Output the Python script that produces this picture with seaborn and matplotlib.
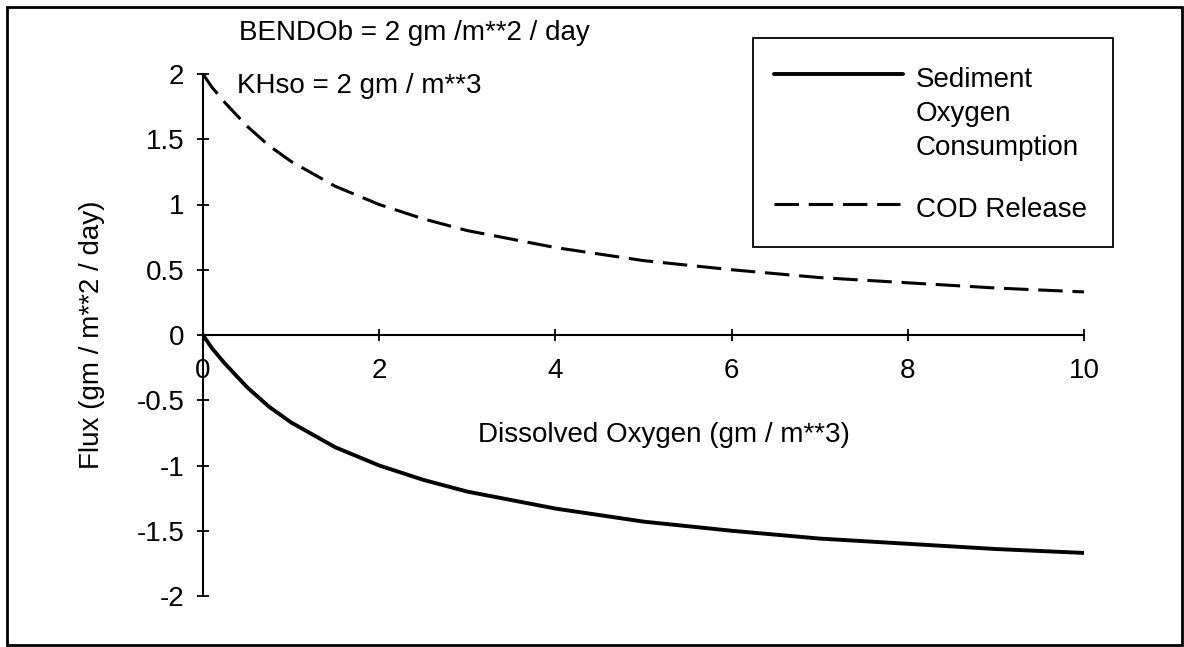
import matplotlib
matplotlib.use("Agg")
import matplotlib.pyplot as plt
from matplotlib.patches import Rectangle
from matplotlib.lines import Line2D
import seaborn as sns
import pandas as pd

# Dissolved oxygen (gm / m**3) and the two benthic fluxes (gm / m**2 / day)
dissolved_oxygen = [0, 0.1, 0.25, 0.5, 0.75, 1, 1.5, 2, 2.5, 3, 4, 5, 6, 7, 8, 9, 10]
sediment_oxygen = [0, -0.10, -0.22, -0.40, -0.55, -0.67, -0.86, -1.00, -1.11, -1.20,
                   -1.33, -1.43, -1.50, -1.56, -1.60, -1.64, -1.67]
cod_release = [2.00, 1.90, 1.78, 1.60, 1.45, 1.33, 1.14, 1.00, 0.89, 0.80,
               0.67, 0.57, 0.50, 0.44, 0.40, 0.36, 0.33]

series_names = ["Sediment Oxygen Consumption", "COD Release"]
x_ticks = [0, 2, 4, 6, 8, 10]
y_ticks = [-2, -1.5, -1, -0.5, 0, 0.5, 1, 1.5, 2]
y_tick_labels = ["-2", "-1.5", "-1", "-0.5", "0", "0.5", "1", "1.5", "2"]

sns.set_style("ticks")
plt.rcParams["font.family"] = ["Liberation Sans", "DejaVu Sans"]
plt.rcParams["text.color"] = "black"
FS = 20

W, H = 1184, 647


def fx(px):
    return px / W


def fy(py):
    return 1 - py / H


df = pd.DataFrame({
    "DO": dissolved_oxygen * 2,
    "Flux": sediment_oxygen + cod_release,
    "Series": [series_names[0]] * len(dissolved_oxygen) + [series_names[1]] * len(dissolved_oxygen),
})

fig = plt.figure(figsize=(W / 100, H / 100), dpi=100)
ax = fig.add_axes([fx(203), fy(596), 881 / W, 522 / H])

dash = (8, 3.2)
sns.lineplot(data=df, x="DO", y="Flux", style="Series", color="black",
             dashes={series_names[0]: "", series_names[1]: dash},
             ax=ax, legend=False)
line_widths = [2.8, 2.2]
for line, lw in zip(ax.get_lines(), line_widths):
    line.set_linewidth(lw)

ax.set_xlim(0, 10)
ax.set_ylim(-2, 2)
ax.set_xticks(x_ticks)
ax.set_xticklabels([str(t) for t in x_ticks])
ax.set_yticks(y_ticks)
ax.set_yticklabels(y_tick_labels)

for side in ["top", "right"]:
    ax.spines[side].set_visible(False)
ax.spines["bottom"].set_position(("data", 0))
for side in ["left", "bottom"]:
    ax.spines[side].set_color("black")
    ax.spines[side].set_linewidth(1.5)

ax.tick_params(axis="both", which="major", direction="inout", length=9, width=1.3,
               colors="black", labelsize=FS)
ax.tick_params(axis="x", pad=12)
ax.tick_params(axis="y", pad=9)

ax.set_xlabel("Dissolved Oxygen (gm / m**3)", fontsize=FS, color="black")
ax.xaxis.set_label_coords(0.523, 0.333)
ax.set_ylabel("Flux (gm / m**2 / day)", fontsize=FS, color="black")
ax.yaxis.set_label_coords(-0.111, 0.5)

fig.text(fx(239), fy(40), "BENDOb = 2 gm /m**2 / day", fontsize=FS,
         ha="left", va="baseline")
fig.text(fx(237), fy(93), "KHso = 2 gm / m**3", fontsize=FS,
         ha="left", va="baseline")

# Legend: frame, sample lines and labels
fig.patches.append(Rectangle((fx(753), fy(247)), 360 / W, 209 / H,
                             transform=fig.transFigure, fill=False,
                             edgecolor="black", linewidth=1.3))
fig.lines.append(Line2D([fx(774), fx(903)], [fy(74), fy(74)], transform=fig.transFigure,
                        color="black", linewidth=line_widths[0]))
fig.lines.append(Line2D([fx(774), fx(900)], [fy(204), fy(204)], transform=fig.transFigure,
                        color="black", linewidth=line_widths[1], dashes=dash))
for text, base in zip(["Sediment", "Oxygen", "Consumption"], [87, 121, 155]):
    fig.text(fx(916), fy(base), text, fontsize=FS, ha="left", va="baseline")
fig.text(fx(916), fy(217), series_names[1], fontsize=FS, ha="left", va="baseline")

# Outer border around the whole chart
fig.patches.append(Rectangle((fx(7), fy(645)), 1175 / W, 638 / H,
                             transform=fig.transFigure, fill=False,
                             edgecolor="black", linewidth=2))

fig.savefig("out.png", dpi=100)
